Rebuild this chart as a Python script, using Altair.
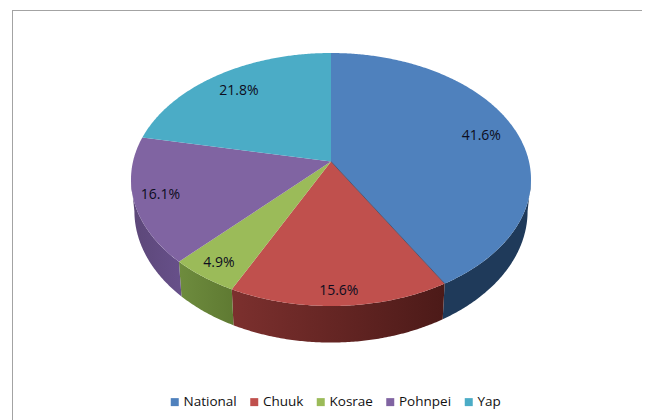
import math
import altair as alt

categories = ["National", "Chuuk", "Kosrae", "Pohnpei", "Yap"]
shares = [41.6, 15.6, 4.9, 16.1, 21.8]
top_colors = ["#4F81BD", "#C0504D", "#9BBB59", "#8064A2", "#4BACC6"]
side_stops = [
    ("#1f3a5a", "#1f3a5a"),
    ("#7c302e", "#4c1a18"),
    ("#6e8c3e", "#5f7a32"),
    ("#5c4778", "#67508a"),
    ("#4BACC6", "#4BACC6"),
]
label_reach = [0.81, 0.91, 0.89, 0.87, 0.80]

OX, OY = 8, 8
CX, CY, RX, RY = 331 - OX, 179.5 - OY, 200.0, 126.5
TILT = 0.142
BX, BK, BCY = 0.983, 1.04, 211 - OY


def project(u, v):
    d = 1 - TILT * v
    return (CX + RX * u * math.sqrt(1 - TILT ** 2) / d, CY + RY * (v - TILT) / d)


def lower(p):
    return (CX + (p[0] - CX) * BX, BCY + (p[1] - CY) * BK)


def rim(deg):
    t = math.radians(deg)
    return project(math.sin(t), -math.cos(t))


def feature(ring, **props):
    pts = [list(p) for p in ring] + [list(ring[0])]
    return {"type": "Feature", "properties": props,
            "geometry": {"type": "Polygon", "coordinates": [pts]}}


def sweep(a, b):
    n = max(2, int(abs(b - a)) * 2)
    return [a + (b - a) * i / n for i in range(n + 1)]


edges = [0.0]
for s in shares:
    edges.append(edges[-1] + s * 3.6)

# angle at which the rim is at its right and left extremes on screen
angles = [i / 4 for i in range(1441)]
xs = [rim(a)[0] for a in angles]
right_a, left_a = angles[xs.index(max(xs))], angles[xs.index(min(xs))]

top_feats, side_layers, label_rows = [], [], []
proj = dict(type="identity", scale=1, translate=[0, 0])

for i, name in enumerate(categories):
    a, b = edges[i], edges[i + 1]
    ring = [project(0, 0)] + [rim(t) for t in sweep(a, b)]
    top_feats.append(feature(ring, category=name))

    lo, hi = max(a, right_a), min(b, left_a)
    if hi > lo:
        arc = [rim(t) for t in sweep(lo, hi)]
        wall = arc + [lower(p) for p in reversed(arc)]
        c1, c2 = side_stops[i]
        side_layers.append(
            alt.Chart(alt.Data(values=[feature(wall, category=name)]))
            .mark_geoshape(
                strokeWidth=0,
                fill=alt.Gradient(
                    gradient="linear", x1=0, x2=1, y1=0, y2=0,
                    stops=[alt.GradientStop(color=c1, offset=0),
                           alt.GradientStop(color=c2, offset=1)],
                ),
            )
            .project(**proj)
        )

    mid = math.radians((a + b) / 2)
    r = label_reach[i]
    lx, ly = project(r * math.sin(mid), -r * math.cos(mid))
    label_rows.append({"lon": lx, "lat": ly, "label": f"{shares[i]:.1f}%"})

tops = (
    alt.Chart(alt.Data(values=top_feats))
    .mark_geoshape(strokeWidth=0)
    .encode(
        color=alt.Color(
            "properties.category:N",
            scale=alt.Scale(domain=categories, range=top_colors),
            legend=alt.Legend(
                title=None, orient="none", direction="horizontal",
                legendX=160, legendY=387, columns=5, columnPadding=10.5,
                symbolType="square", symbolSize=64, symbolStrokeWidth=0,
                symbolOffset=0, labelOffset=2,
                labelFont="Open Sans", labelFontSize=13.5, labelFontWeight=500,
                labelColor="#111111",
            ),
        )
    )
    .project(**proj)
)

seam_line = {"type": "Feature", "properties": {},
             "geometry": {"type": "LineString",
                          "coordinates": [list(project(0, 0)), list(rim(edges[1]))]}}
seam = (
    alt.Chart(alt.Data(values=[seam_line]))
    .mark_geoshape(filled=False, stroke="#3d4a66", strokeWidth=0.8)
    .project(**proj)
)

labels = (
    alt.Chart(alt.Data(values=label_rows))
    .mark_text(font="Open Sans", fontSize=14, color="#0d0d20")
    .encode(longitude="lon:Q", latitude="lat:Q", text="label:N")
    .project(**proj)
)

frame_top = alt.Chart(alt.Data(values=[{"a": 1}])).mark_rule(color="#a3a3a3", strokeWidth=1).encode(
    x=alt.value(4), x2=alt.value(634), y=alt.value(2.5))
frame_left = alt.Chart(alt.Data(values=[{"a": 1}])).mark_rule(color="#a3a3a3", strokeWidth=1).encode(
    x=alt.value(4.5), y=alt.value(2), y2=alt.value(412))

chart = (
    alt.layer(frame_top, frame_left, *side_layers, tops, seam, labels)
    .properties(width=634, height=412, padding=0, autosize=alt.AutoSizeParams(type="none"))
    .configure_view(stroke=None)
)

chart.save("out.html", embed_options={"renderer": "svg", "actions": False})
